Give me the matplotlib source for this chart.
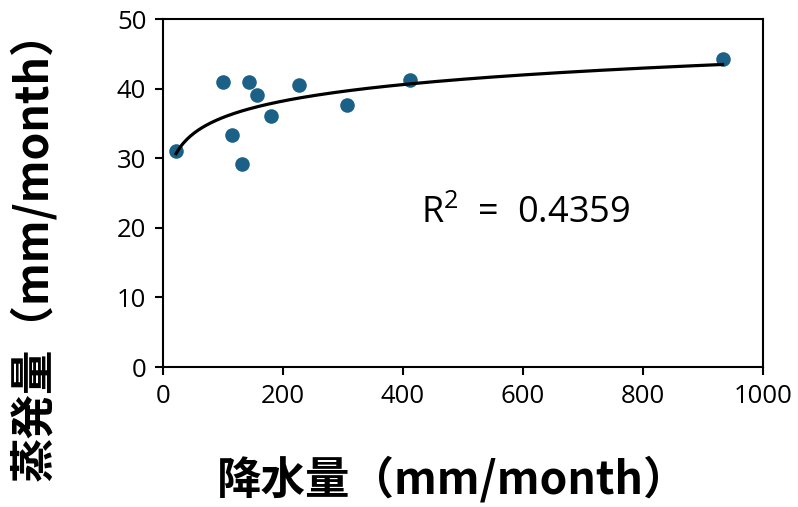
import numpy as np
import matplotlib.pyplot as plt

plt.rcParams['font.family'] = ['Open Sans', 'Noto Sans CJK JP', 'DejaVu Sans']
plt.rcParams['mathtext.fontset'] = 'custom'
plt.rcParams['mathtext.rm'] = 'Open Sans'

# precipitation (mm/month) vs evaporation (mm/month)
precip = [21.7, 99.5, 143.8, 157.0, 114.5, 131.7, 180.0, 226.0, 306.7, 411.7, 932.8]
evap = [31.0, 41.0, 41.0, 39.1, 33.4, 29.1, 36.1, 40.5, 37.6, 41.3, 44.3]
r2_text = 'R$^2$  =  0.4359'

fig = plt.figure(figsize=(7.98, 5.07), dpi=100)
ax = fig.add_axes([0.2043, 0.2761, 0.7517, 0.6864])

ax.scatter(precip, evap, s=110, color='#1b6087', zorder=3, linewidths=0)

# logarithmic trend line
a, b = np.polyfit(np.log(precip), evap, 1)
xs = np.linspace(min(precip), max(precip), 300)
ax.plot(xs, a * np.log(xs) + b, color='black', lw=2.3, zorder=4)

ax.set_xlim(0, 1000)
ax.set_ylim(0, 50)
ax.set_xticks(range(0, 1001, 200))
ax.set_yticks(range(0, 51, 10))
ax.tick_params(labelsize=18.5, width=1.5, length=6, color='black', pad=6)
for s in ax.spines.values():
    s.set_linewidth(1.5)

ax.text(0.605, 0.44, r2_text, transform=ax.transAxes, fontsize=26, ha='center', va='center')

cjk = ['Noto Sans CJK JP', 'DejaVu Sans']
fig.text(0.567, 0.052, '降水量（mm/month）', fontsize=32, fontweight='bold', ha='center', va='center', family=cjk)
fig.text(0.043, 0.517, '蒸発量（mm/month）', fontsize=32, fontweight='bold', ha='center', va='center', rotation=90, family=cjk)

fig.savefig('out.png', dpi=100)
